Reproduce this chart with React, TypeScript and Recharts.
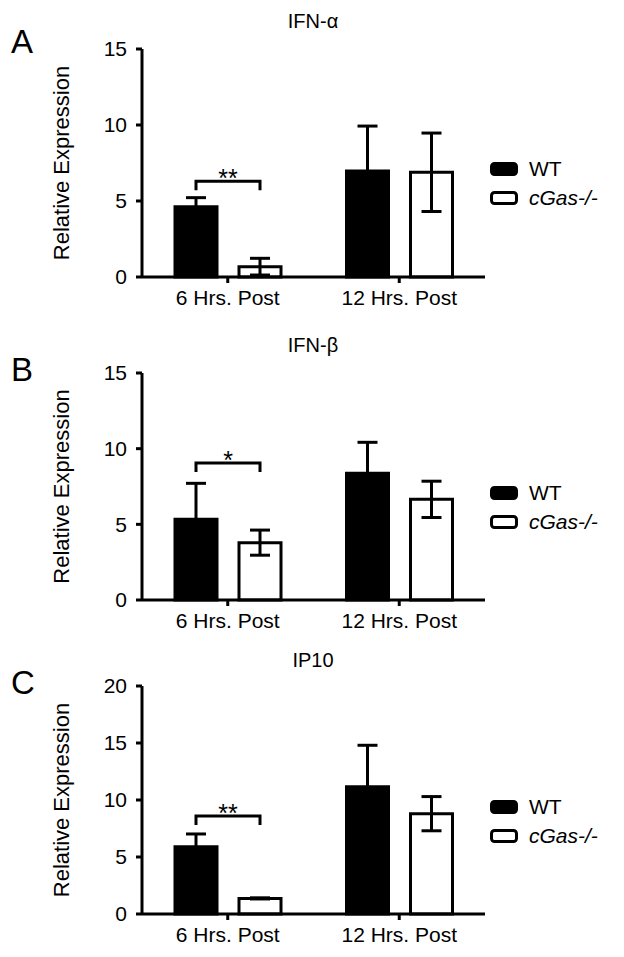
import { Bar, BarChart, ErrorBar, LabelList, Legend, XAxis, YAxis } from "recharts";

const categories = ["6 Hrs. Post", "12 Hrs. Post"];

// IFN-alpha
const wtAlpha = [4.62, 6.97];
const wtAlphaErr = [0.6, 2.96];
const koAlpha = [0.68, 6.89];
const koAlphaErr = [0.55, 2.58];
const sigAlpha = ["**", ""];
const sigAlphaLevel = [6.3, 0];

// IFN-beta
const wtBeta = [5.33, 8.37];
const wtBetaErr = [2.38, 2.05];
const koBeta = [3.79, 6.65];
const koBetaErr = [0.83, 1.2];
const sigBeta = ["*", ""];
const sigBetaLevel = [9.05, 0];

// IP10
const wtIp10 = [5.9, 11.17];
const wtIp10Err = [1.12, 3.63];
const koIp10 = [1.37, 8.8];
const koIp10Err = [0.05, 1.5];
const sigIp10 = ["**", ""];
const sigIp10Level = [8.6, 0];

const ticks15 = [0, 5, 10, 15];
const ticks20 = [0, 5, 10, 15, 20];

const seriesNames = ["WT", "cGas-/-"];

const FONT = '"Liberation Sans", Arial, Helvetica, sans-serif';
const BAR_SIZE = 42;
const BAR_GAP = 22;
const XAXIS_H = 33;

type PanelProps = {
  letter: string;
  title: string;
  wt: number[];
  wtErr: number[];
  ko: number[];
  koErr: number[];
  sig: string[];
  sigLevel: number[];
  ticks: number[];
  top: number;
  height: number;
  marginTop: number;
  plotHeight: number;
  legendTop: number;
  letterY: number;
  titleY: number;
};

const axisStroke = { stroke: "#000", strokeWidth: 3 };
const tickStyle = { fill: "#000", fontSize: 21, fontFamily: FONT };

const renderLegend = () => (
  <div style={{ fontFamily: FONT, fontSize: 21, color: "#000" }}>
    {seriesNames.map((name, i) => (
      <div key={name} style={{ display: "flex", alignItems: "center", height: 29 }}>
        <svg width={28} height={14}>
          <rect
            x={1.5}
            y={1.5}
            width={25}
            height={11}
            rx={3}
            fill={i === 0 ? "#000" : "#fff"}
            stroke="#000"
            strokeWidth={3}
          />
        </svg>
        <span style={{ marginLeft: 11, fontStyle: i === 1 ? "italic" : "normal" }}>{name}</span>
      </div>
    ))}
  </div>
);

const makeBracket = (wt: number[], sig: string[], level: number[]) => (props: any) => {
  const vb = props.viewBox ?? props;
  const i = props.index;
  if (i == null || !sig[i]) return null;
  const x = Number(vb.x ?? props.x);
  const y = Number(vb.y ?? props.y);
  const w = Number(vb.width ?? props.width);
  const h = Number(vb.height ?? props.height);
  const base = y + h;
  const k = h / wt[i];
  const yb = base - level[i] * k;
  const x1 = x + w / 2;
  const x2 = x + w * 1.5 + BAR_GAP;
  return (
    <g>
      <path d={`M${x1},${yb + 9}V${yb}H${x2}V${yb + 9}`} stroke="#000" strokeWidth={3} fill="none" />
      <text x={(x1 + x2) / 2} y={yb + 6} textAnchor="middle" fontSize={25} fontFamily={FONT} fill="#000">
        {sig[i]}
      </text>
    </g>
  );
};

const Panel = (p: PanelProps) => {
  const data = categories.map((name, i) => ({
    name,
    wt: p.wt[i],
    wtErr: p.wtErr[i],
    ko: p.ko[i],
    koErr: p.koErr[i],
  }));
  const bottom = p.height - p.marginTop - p.plotHeight - XAXIS_H;
  const yMax = p.ticks[p.ticks.length - 1];

  return (
    <div style={{ position: "absolute", left: 0, top: p.top, width: 624, height: p.height }}>
      <BarChart
        width={624}
        height={p.height}
        data={data}
        margin={{ top: p.marginTop, right: 139, bottom, left: 0 }}
        barGap={BAR_GAP}
        barSize={BAR_SIZE}
      >
        <XAxis
          dataKey="name"
          height={XAXIS_H}
          tick={tickStyle}
          tickSize={6}
          tickMargin={7}
          axisLine={axisStroke}
          tickLine={axisStroke}
        />
        <YAxis
          width={142}
          domain={[0, yMax]}
          ticks={p.ticks}
          interval={0}
          tick={tickStyle}
          tickSize={6}
          tickMargin={9}
          axisLine={axisStroke}
          tickLine={axisStroke}
          label={(lp: any) => {
            const vb = lp.viewBox ?? {};
            const cy = vb.y != null ? vb.y + vb.height / 2 : p.marginTop + p.plotHeight / 2;
            return (
              <text
                x={61}
                y={cy}
                transform={`rotate(-90, 61, ${cy})`}
                textAnchor="middle"
                dominantBaseline="central"
                fontSize={22}
                fontFamily={FONT}
                fill="#000"
              >
                Relative Expression
              </text>
            );
          }}
        />
        <Legend
          layout="vertical"
          align="center"
          verticalAlign="middle"
          content={renderLegend}
          wrapperStyle={{ left: 490, top: p.legendTop, width: 134 }}
        />
        <Bar dataKey="wt" name="WT" fill="#000" stroke="#000" strokeWidth={3} isAnimationActive={false}>
          <ErrorBar dataKey="wtErr" width={10} stroke="#000" strokeWidth={3} direction="y" />
          <LabelList dataKey="wt" content={makeBracket(p.wt, p.sig, p.sigLevel)} />
        </Bar>
        <Bar dataKey="ko" name="cGas-/-" fill="#fff" stroke="#000" strokeWidth={3} isAnimationActive={false}>
          <ErrorBar dataKey="koErr" width={10} stroke="#000" strokeWidth={3} direction="y" />
        </Bar>
      </BarChart>
      <svg
        width={624}
        height={p.height}
        style={{ position: "absolute", left: 0, top: 0, pointerEvents: "none" }}
      >
        <text x={11} y={p.letterY} fontSize={33} fontFamily={FONT} fill="#000">
          {p.letter}
        </text>
        <text x={313} y={p.titleY} textAnchor="middle" fontSize={20} fontFamily={FONT} fill="#000">
          {p.title}
        </text>
      </svg>
    </div>
  );
};

export default function App() {
  return (
    <div style={{ position: "absolute", left: 0, top: 0, width: 624, height: 957, background: "#fff" }}>
      <Panel
        letter="A"
        title="IFN-α"
        wt={wtAlpha}
        wtErr={wtAlphaErr}
        ko={koAlpha}
        koErr={koAlphaErr}
        sig={sigAlpha}
        sigLevel={sigAlphaLevel}
        ticks={ticks15}
        top={0}
        height={320}
        marginTop={49}
        plotHeight={228}
        legendTop={154}
        letterY={53}
        titleY={28}
      />
      <Panel
        letter="B"
        title="IFN-β"
        wt={wtBeta}
        wtErr={wtBetaErr}
        ko={koBeta}
        koErr={koBetaErr}
        sig={sigBeta}
        sigLevel={sigBetaLevel}
        ticks={ticks15}
        top={320}
        height={320}
        marginTop={53}
        plotHeight={227}
        legendTop={158}
        letterY={61}
        titleY={32}
      />
      <Panel
        letter="C"
        title="IP10"
        wt={wtIp10}
        wtErr={wtIp10Err}
        ko={koIp10}
        koErr={koIp10Err}
        sig={sigIp10}
        sigLevel={sigIp10Level}
        ticks={ticks20}
        top={640}
        height={317}
        marginTop={46}
        plotHeight={228}
        legendTop={152}
        letterY={54}
        titleY={27}
      />
    </div>
  );
}
